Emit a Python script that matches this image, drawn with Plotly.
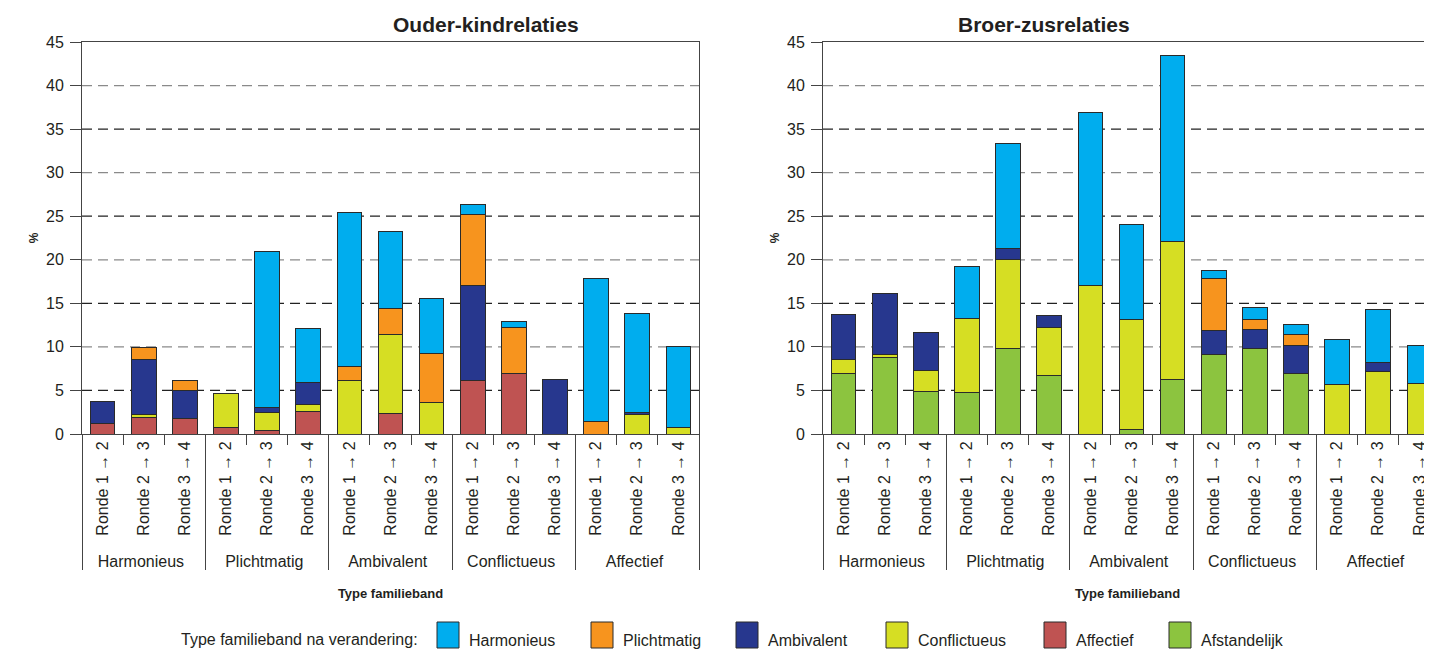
import plotly.graph_objects as go

# ---------------- data ----------------
groups = ["Harmonieus", "Plichtmatig", "Ambivalent", "Conflictueus", "Affectief"]
rondes = ["Ronde 1 → 2", "Ronde 2 → 3", "Ronde 3 → 4"]
series_names = ["Harmonieus", "Plichtmatig", "Ambivalent", "Conflictueus", "Affectief", "Afstandelijk"]

# Ouder-kindrelaties (15 bars: 5 groups x 3 rondes)
ok_harmonieus   = [0, 0, 0,     0, 17.8, 6.2,   17.6, 8.8, 6.3,   1.1, 0.7, 0,    16.4, 11.4, 9.2]
ok_plichtmatig  = [0, 1.3, 1.1, 0, 0, 0,        1.7, 3.0, 5.6,    8.2, 5.3, 0,    1.4, 0, 0]
ok_ambivalent   = [2.5, 6.4, 3.2, 0, 0.6, 2.5,  0, 0, 0,          10.9, 0, 6.2,   0, 0.25, 0]
ok_conflictueus = [0, 0.3, 0,   3.9, 2.1, 0.8,  6.1, 9.1, 3.6,    0, 0, 0,        0, 2.2, 0.8]
ok_affectief    = [1.2, 1.9, 1.8, 0.7, 0.4, 2.6, 0, 2.3, 0,       6.1, 6.9, 0,    0, 0, 0]
ok_afstandelijk = [0, 0, 0,     0, 0, 0,        0, 0, 0,          0, 0, 0,        0, 0, 0]

# Broer-zusrelaties
bz_harmonieus   = [0, 0, 0,     5.9, 12.0, 0,   19.9, 10.8, 21.3, 1.0, 1.4, 1.2,  5.1, 6.1, 4.4]
bz_plichtmatig  = [0, 0, 0,     0, 0, 0,        0, 0, 0,          5.9, 1.1, 1.2,  0, 0, 0]
bz_ambivalent   = [5.1, 7.0, 4.3, 0, 1.3, 1.4,  0, 0, 0,          2.8, 2.2, 3.3,  0, 1.0, 0]
bz_conflictueus = [1.6, 0.3, 2.4, 8.5, 10.2, 5.5, 17.0, 12.7, 15.9, 0, 0, 0,      5.7, 7.2, 5.8]
bz_affectief    = [0, 0, 0,     0, 0, 0,        0, 0, 0,          0, 0, 0,        0, 0, 0]
bz_afstandelijk = [7.0, 8.8, 4.9, 4.8, 9.8, 6.7, 0, 0.5, 6.2,     9.1, 9.8, 6.9,  0, 0, 0]

y_ticks = [0, 5, 10, 15, 20, 25, 30, 35, 40, 45]
grid_vals = [5, 10, 15, 20, 25, 30, 35, 40]

# ---------------- style ----------------
colors = {
    "Harmonieus": "#00ADEE",
    "Plichtmatig": "#F7941E",
    "Ambivalent": "#27378E",
    "Conflictueus": "#D6DE23",
    "Affectief": "#BF5352",
    "Afstandelijk": "#8CC43F",
}
FONT = "Liberation Sans, Arial, sans-serif"
TXT = "#231f20"
LINE = "#444444"

# the page body has an 8px margin: figure is placed at (8, 8) in the 1432x649 window
OFF = 8
SW, SH = 1432, 649
W, H = SW - OFF, SH - OFF
def px_x(p):          # screen pixel x -> paper fraction
    return (p - OFF) / W
def px_y(p):          # screen pixel y (from top) -> paper fraction
    return (SH - p) / H

x_cat = [[g for g in groups for _ in rondes], [r for _ in groups for r in rondes]]

ok_data = dict(zip(series_names, [ok_harmonieus, ok_plichtmatig, ok_ambivalent,
                                  ok_conflictueus, ok_affectief, ok_afstandelijk]))
bz_data = dict(zip(series_names, [bz_harmonieus, bz_plichtmatig, bz_ambivalent,
                                  bz_conflictueus, bz_affectief, bz_afstandelijk]))

stack_order = ["Afstandelijk", "Affectief", "Conflictueus", "Ambivalent", "Plichtmatig", "Harmonieus"]

fig = go.Figure()
for data, xa, ya in [(ok_data, "x", "y"), (bz_data, "x2", "y2")]:
    for name in stack_order:
        vals = [v if v else None for v in data[name]]
        fig.add_trace(go.Bar(
            x=x_cat, y=vals, name=name, xaxis=xa, yaxis=ya,
            marker=dict(color=colors[name], line=dict(color="#2a2a2a", width=1)),
            width=0.6, showlegend=False, hoverinfo="y+name",
        ))

ydom = [px_y(434), px_y(42)]
xdom1 = [px_x(82), px_x(699)]
xdom2 = [px_x(823), 1.0]
unit = (699 - 82) / 15.0
x2_max = -0.5 + (SW - 823) / unit

common_x = dict(
    type="multicategory", showline=True, linecolor=LINE, linewidth=1, mirror=True,
    ticks="outside", ticklen=10, tickcolor=LINE, tickangle=-90,
    tickfont=dict(size=16, color=TXT, family=FONT),
    showdividers=True, dividercolor=LINE, dividerwidth=1,
    showgrid=False, zeroline=False, fixedrange=True, automargin=False,
    title=dict(text="<b>Type familieband</b>", font=dict(size=13, color=TXT, family=FONT), standoff=20),
)
common_y = dict(
    range=[0, 45], tickvals=y_ticks, showgrid=False, zeroline=False,
    showline=True, linecolor=LINE, linewidth=1,
    ticks="outside", ticklen=11, tickcolor=LINE,
    tickfont=dict(size=16, color=TXT, family=FONT), ticklabelstandoff=3,
    title=dict(text="<b>%</b>", font=dict(size=12, color=TXT, family=FONT), standoff=4),
    domain=ydom, fixedrange=True, automargin=False,
)

fig.update_layout(
    xaxis=dict(common_x, domain=xdom1, anchor="y", range=[-0.5, 14.5]),
    yaxis=dict(common_y, anchor="x", mirror=True),
    xaxis2=dict(common_x, domain=xdom2, anchor="y2", range=[-0.5, x2_max]),
    yaxis2=dict(common_y, anchor="x2", mirror=False),
)

# dashed gridlines (alternating grey / dark as in the original)
shapes = []
for xr, yr in [("x domain", "y"), ("x2 domain", "y2")]:
    for v in grid_vals:
        shapes.append(dict(
            type="line", xref=xr, yref=yr, x0=0, x1=1, y0=v, y1=v, layer="below",
            line=dict(color="#8a8a8a" if v % 10 == 0 else "#222222", width=1.3, dash="10px,6px"),
        ))

# titles
annotations = [
    dict(text="<b>Ouder-kindrelaties</b>", x=(xdom1[0] + xdom1[1]) / 2, y=px_y(25),
         xref="paper", yref="paper", yanchor="middle", showarrow=False,
         font=dict(size=21, color=TXT, family=FONT)),
    dict(text="<b>Broer-zusrelaties</b>", x=px_x((823 + 823 + 15 * unit) / 2), y=px_y(25),
         xref="paper", yref="paper", yanchor="middle", showarrow=False,
         font=dict(size=21, color=TXT, family=FONT)),
]

# manual legend
legend_title = "Type familieband na verandering:"
legend_box_px = [437, 591, 736, 886, 1044, 1169]
annotations.append(dict(text=legend_title, x=px_x(420), y=px_y(639), xref="paper", yref="paper",
                        xanchor="right", yanchor="middle", showarrow=False,
                        font=dict(size=16, color=TXT, family=FONT)))
for name, bx in zip(series_names, legend_box_px):
    shapes.append(dict(type="rect", xref="paper", yref="paper",
                       x0=px_x(bx), x1=px_x(bx + 22), y0=px_y(648), y1=px_y(622),
                       fillcolor=colors[name], line=dict(color="#2a2a2a", width=1)))
    annotations.append(dict(text=name, x=px_x(bx + 30), y=px_y(640), xref="paper", yref="paper",
                            xanchor="left", yanchor="middle", showarrow=False,
                            font=dict(size=16, color=TXT, family=FONT)))

fig.update_layout(
    width=W, height=H, barmode="stack", bargap=0.4,
    margin=dict(l=0, r=0, t=0, b=0, autoexpand=False),
    plot_bgcolor="white", paper_bgcolor="white",
    showlegend=False, shapes=shapes, annotations=annotations,
    font=dict(family=FONT, color=TXT),
)

fig.write_html("out.html")
